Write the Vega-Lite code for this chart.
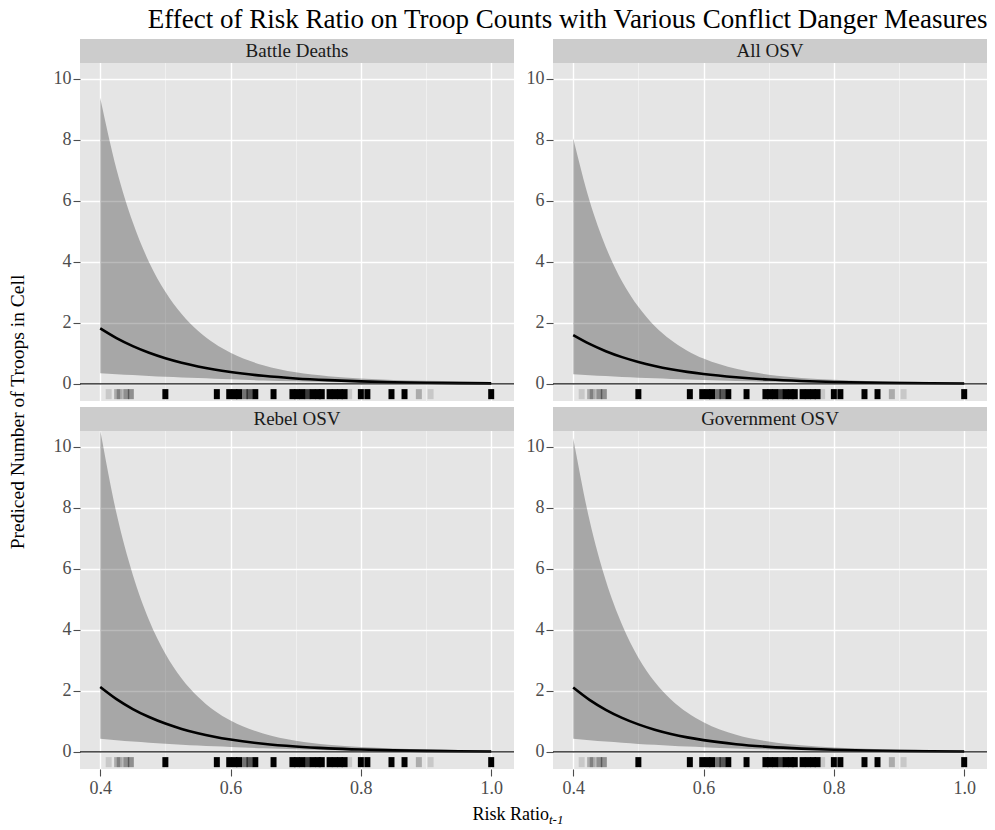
{
"$schema": "https://vega.github.io/schema/vega-lite/v6.json",
"padding": {"top": 6, "left": 0, "right": 0, "bottom": 0},
"background": "white",
"config": {"view": {"stroke": null}, "font": "Liberation Serif", "text": {"font": "Liberation Serif"}},
"title": {"text": "Effect of Risk Ratio on Troop Counts with Various Conflict Danger Measures", "anchor": "end", "font": "Liberation Serif", "fontSize": 27, "fontWeight": "normal", "color": "#000000", "offset": 5},
"datasets": {
"fit": [
{"panel":"Battle Deaths","x":0.4,"fit":1.82,"lo":0.353,"hi":9.38},
{"panel":"Battle Deaths","x":0.425,"fit":1.501,"lo":0.32,"hi":7.04},
{"panel":"Battle Deaths","x":0.45,"fit":1.239,"lo":0.289,"hi":5.3},
{"panel":"Battle Deaths","x":0.475,"fit":1.022,"lo":0.262,"hi":3.99},
{"panel":"Battle Deaths","x":0.5,"fit":0.843,"lo":0.236,"hi":3.02},
{"panel":"Battle Deaths","x":0.525,"fit":0.696,"lo":0.212,"hi":2.29},
{"panel":"Battle Deaths","x":0.55,"fit":0.574,"lo":0.19,"hi":1.74},
{"panel":"Battle Deaths","x":0.575,"fit":0.473,"lo":0.169,"hi":1.33},
{"panel":"Battle Deaths","x":0.6,"fit":0.39,"lo":0.15,"hi":1.02},
{"panel":"Battle Deaths","x":0.65,"fit":0.266,"lo":0.115,"hi":0.613},
{"panel":"Battle Deaths","x":0.7,"fit":0.18,"lo":0.085,"hi":0.381},
{"panel":"Battle Deaths","x":0.75,"fit":0.123,"lo":0.06,"hi":0.253},
{"panel":"Battle Deaths","x":0.8,"fit":0.0837,"lo":0.04,"hi":0.177},
{"panel":"Battle Deaths","x":0.85,"fit":0.057,"lo":0.025,"hi":0.131},
{"panel":"Battle Deaths","x":0.9,"fit":0.0388,"lo":0.015,"hi":0.101},
{"panel":"Battle Deaths","x":0.95,"fit":0.0264,"lo":0.0087,"hi":0.08},
{"panel":"Battle Deaths","x":1.0,"fit":0.018,"lo":0.005,"hi":0.064},
{"panel":"All OSV","x":0.4,"fit":1.6,"lo":0.318,"hi":8.05},
{"panel":"All OSV","x":0.425,"fit":1.31,"lo":0.286,"hi":6.01},
{"panel":"All OSV","x":0.45,"fit":1.073,"lo":0.256,"hi":4.49},
{"panel":"All OSV","x":0.475,"fit":0.878,"lo":0.229,"hi":3.36},
{"panel":"All OSV","x":0.5,"fit":0.719,"lo":0.205,"hi":2.53},
{"panel":"All OSV","x":0.525,"fit":0.589,"lo":0.182,"hi":1.9},
{"panel":"All OSV","x":0.55,"fit":0.482,"lo":0.162,"hi":1.44},
{"panel":"All OSV","x":0.575,"fit":0.395,"lo":0.143,"hi":1.09},
{"panel":"All OSV","x":0.6,"fit":0.323,"lo":0.126,"hi":0.83},
{"panel":"All OSV","x":0.65,"fit":0.217,"lo":0.095,"hi":0.494},
{"panel":"All OSV","x":0.7,"fit":0.145,"lo":0.069,"hi":0.304},
{"panel":"All OSV","x":0.75,"fit":0.0973,"lo":0.048,"hi":0.198},
{"panel":"All OSV","x":0.8,"fit":0.0652,"lo":0.031,"hi":0.137},
{"panel":"All OSV","x":0.85,"fit":0.0437,"lo":0.019,"hi":0.0995},
{"panel":"All OSV","x":0.9,"fit":0.0293,"lo":0.0114,"hi":0.0753},
{"panel":"All OSV","x":0.95,"fit":0.0196,"lo":0.0066,"hi":0.0584},
{"panel":"All OSV","x":1.0,"fit":0.0132,"lo":0.0038,"hi":0.0464},
{"panel":"Rebel OSV","x":0.4,"fit":2.13,"lo":0.43,"hi":10.55},
{"panel":"Rebel OSV","x":0.425,"fit":1.731,"lo":0.383,"hi":7.82},
{"panel":"Rebel OSV","x":0.45,"fit":1.406,"lo":0.341,"hi":5.81},
{"panel":"Rebel OSV","x":0.475,"fit":1.143,"lo":0.302,"hi":4.32},
{"panel":"Rebel OSV","x":0.5,"fit":0.929,"lo":0.268,"hi":3.22},
{"panel":"Rebel OSV","x":0.525,"fit":0.755,"lo":0.236,"hi":2.41},
{"panel":"Rebel OSV","x":0.55,"fit":0.613,"lo":0.208,"hi":1.81},
{"panel":"Rebel OSV","x":0.575,"fit":0.498,"lo":0.182,"hi":1.36},
{"panel":"Rebel OSV","x":0.6,"fit":0.405,"lo":0.159,"hi":1.03},
{"panel":"Rebel OSV","x":0.65,"fit":0.267,"lo":0.118,"hi":0.603},
{"panel":"Rebel OSV","x":0.7,"fit":0.176,"lo":0.085,"hi":0.366},
{"panel":"Rebel OSV","x":0.75,"fit":0.116,"lo":0.057,"hi":0.235},
{"panel":"Rebel OSV","x":0.8,"fit":0.0768,"lo":0.037,"hi":0.16},
{"panel":"Rebel OSV","x":0.85,"fit":0.0507,"lo":0.022,"hi":0.115},
{"panel":"Rebel OSV","x":0.9,"fit":0.0335,"lo":0.013,"hi":0.085},
{"panel":"Rebel OSV","x":0.95,"fit":0.0221,"lo":0.0075,"hi":0.065},
{"panel":"Rebel OSV","x":1.0,"fit":0.0146,"lo":0.0042,"hi":0.051},
{"panel":"Government OSV","x":0.4,"fit":2.11,"lo":0.432,"hi":10.29},
{"panel":"Government OSV","x":0.425,"fit":1.706,"lo":0.383,"hi":7.6},
{"panel":"Government OSV","x":0.45,"fit":1.38,"lo":0.339,"hi":5.62},
{"panel":"Government OSV","x":0.475,"fit":1.116,"lo":0.299,"hi":4.17},
{"panel":"Government OSV","x":0.5,"fit":0.902,"lo":0.263,"hi":3.09},
{"panel":"Government OSV","x":0.525,"fit":0.729,"lo":0.231,"hi":2.3},
{"panel":"Government OSV","x":0.55,"fit":0.59,"lo":0.202,"hi":1.72},
{"panel":"Government OSV","x":0.575,"fit":0.477,"lo":0.176,"hi":1.29},
{"panel":"Government OSV","x":0.6,"fit":0.386,"lo":0.153,"hi":0.974},
{"panel":"Government OSV","x":0.65,"fit":0.252,"lo":0.112,"hi":0.565},
{"panel":"Government OSV","x":0.7,"fit":0.165,"lo":0.08,"hi":0.341},
{"panel":"Government OSV","x":0.75,"fit":0.108,"lo":0.054,"hi":0.217},
{"panel":"Government OSV","x":0.8,"fit":0.0704,"lo":0.034,"hi":0.146},
{"panel":"Government OSV","x":0.85,"fit":0.046,"lo":0.021,"hi":0.103},
{"panel":"Government OSV","x":0.9,"fit":0.0301,"lo":0.012,"hi":0.076},
{"panel":"Government OSV","x":0.95,"fit":0.0197,"lo":0.0068,"hi":0.057},
{"panel":"Government OSV","x":1.0,"fit":0.0129,"lo":0.0038,"hi":0.044}
],
"rug": [
{"x":0.413,"n":1},{"x":0.426,"n":2},{"x":0.43,"n":2},{"x":0.44,"n":3},{"x":0.447,"n":3},
{"x":0.5,"n":9},{"x":0.579,"n":9},{"x":0.598,"n":9},{"x":0.606,"n":9},{"x":0.613,"n":9},
{"x":0.622,"n":4},{"x":0.629,"n":5},{"x":0.638,"n":9},{"x":0.666,"n":9},{"x":0.695,"n":9},
{"x":0.702,"n":9},{"x":0.71,"n":9},{"x":0.718,"n":6},{"x":0.726,"n":9},{"x":0.734,"n":9},
{"x":0.74,"n":9},{"x":0.752,"n":9},{"x":0.76,"n":9},{"x":0.768,"n":9},{"x":0.775,"n":9},
{"x":0.782,"n":1},{"x":0.8,"n":9},{"x":0.81,"n":9},{"x":0.847,"n":9},{"x":0.867,"n":9},
{"x":0.889,"n":2},{"x":0.907,"n":1},{"x":1.0,"n":9}
]
},
"spacing": 16,
"hconcat": [
{"width": 36, "height": 746, "data": {"values": [{}]},
 "mark": {"type": "text", "angle": 270, "font": "Liberation Serif", "fontSize": 19.5, "color": "#000000"},
 "encoding": {"text": {"value": "Prediced Number of Troops in Cell"}}},
{"spacing": 4, "vconcat": [
 {"spacing": 10, "hconcat": [
  {"width": 434, "height": 362, "view": {"fill": "#E5E5E5", "stroke": null}, "layer": [
   {"data": {"name": "fit"}, "transform": [{"filter": "datum.panel === 'Battle Deaths'"}],
    "mark": {"type": "area", "color": "#000000", "opacity": 0.27, "interpolate": "monotone", "clip": true},
    "encoding": {
     "x": {"field": "x", "type": "quantitative", "scale": {"domain": [0.369, 1.035], "nice": false, "zero": false},
       "axis": {"values": [0.4,0.5,0.6,0.7,0.8,0.9,1.0], "labels": false, "ticks": false, "domain": false, "title": null,
         "gridColor": {"condition": {"test": "abs((datum.value*10) % 2 - 1) < 0.1", "value": "#F2F2F2"}, "value": "#FFFFFF"},
         "gridWidth": {"condition": {"test": "abs((datum.value*10) % 2 - 1) < 0.1", "value": 0.8}, "value": 1.4},
         "minExtent": 0, "maxExtent": 0}},
     "y": {"field": "hi", "type": "quantitative", "scale": {"domain": [-0.56, 11.307], "nice": false, "zero": false},
       "axis": {"values": [0,1,2,3,4,5,6,7,8,9,10], "labelExpr": "datum.value % 2 === 0 ? datum.label : ''",
         "tickSize": 7, "tickWidth": 1.1, "tickColor": "#4d4d4d",
         "tickOpacity": {"condition": {"test": "datum.value % 2 === 1", "value": 0}, "value": 1},
         "gridColor": {"condition": {"test": "datum.value % 2 === 1", "value": "#F2F2F2"}, "value": "#FFFFFF"},
         "gridWidth": {"condition": {"test": "datum.value % 2 === 1", "value": 0.8}, "value": 1.4},
         "domain": false, "title": null, "labelFont": "Liberation Serif", "labelFontSize": 18, "labelColor": "#4d4d4d",
         "labelPadding": 2, "minExtent": 28, "maxExtent": 28}},
     "y2": {"field": "lo"}}},
   {"data": {"name": "fit"}, "transform": [{"filter": "datum.panel === 'Battle Deaths'"}],
    "mark": {"type": "line", "color": "#000000", "strokeWidth": 2.6, "interpolate": "monotone", "clip": true},
    "encoding": {"x": {"field": "x", "type": "quantitative"}, "y": {"field": "fit", "type": "quantitative"}}},
   {"data": {"values": [{}]}, "mark": {"type": "rule", "color": "#1a1a1a", "strokeWidth": 1.1}, "encoding": {"y": {"datum": 0}}},
   {"data": {"name": "rug"}, "mark": {"type": "rule", "color": "#000000", "strokeWidth": 6, "strokeCap": "butt"},
    "encoding": {"x": {"field": "x", "type": "quantitative"}, "y": {"datum": -0.5}, "y2": {"datum": -0.17},
     "opacity": {"field": "n", "type": "quantitative", "scale": {"domain": [0, 8], "range": [0, 1], "clamp": true}, "legend": null}}},
   {"data": {"values": [{}]}, "mark": {"type": "rect", "color": "#CCCCCC"},
    "encoding": {"x": {"datum": 0.369}, "x2": {"datum": 1.035}, "y": {"datum": 10.52}, "y2": {"datum": 11.307}}},
   {"data": {"values": [{}]}, "mark": {"type": "text", "font": "Liberation Serif", "fontSize": 19, "color": "#1a1a1a"},
    "encoding": {"x": {"datum": 0.702}, "y": {"datum": 10.914}, "text": {"value": "Battle Deaths"}}}
  ]},
  {"width": 434, "height": 362, "view": {"fill": "#E5E5E5", "stroke": null}, "layer": [
   {"data": {"name": "fit"}, "transform": [{"filter": "datum.panel === 'All OSV'"}],
    "mark": {"type": "area", "color": "#000000", "opacity": 0.27, "interpolate": "monotone", "clip": true},
    "encoding": {
     "x": {"field": "x", "type": "quantitative", "scale": {"domain": [0.369, 1.035], "nice": false, "zero": false},
       "axis": {"values": [0.4,0.5,0.6,0.7,0.8,0.9,1.0], "labels": false, "ticks": false, "domain": false, "title": null,
         "gridColor": {"condition": {"test": "abs((datum.value*10) % 2 - 1) < 0.1", "value": "#F2F2F2"}, "value": "#FFFFFF"},
         "gridWidth": {"condition": {"test": "abs((datum.value*10) % 2 - 1) < 0.1", "value": 0.8}, "value": 1.4},
         "minExtent": 0, "maxExtent": 0}},
     "y": {"field": "hi", "type": "quantitative", "scale": {"domain": [-0.56, 11.307], "nice": false, "zero": false},
       "axis": {"values": [0,1,2,3,4,5,6,7,8,9,10], "labelExpr": "datum.value % 2 === 0 ? datum.label : ''",
         "tickSize": 7, "tickWidth": 1.1, "tickColor": "#4d4d4d",
         "tickOpacity": {"condition": {"test": "datum.value % 2 === 1", "value": 0}, "value": 1},
         "gridColor": {"condition": {"test": "datum.value % 2 === 1", "value": "#F2F2F2"}, "value": "#FFFFFF"},
         "gridWidth": {"condition": {"test": "datum.value % 2 === 1", "value": 0.8}, "value": 1.4},
         "domain": false, "title": null, "labelFont": "Liberation Serif", "labelFontSize": 18, "labelColor": "#4d4d4d",
         "labelPadding": 2, "minExtent": 28, "maxExtent": 28}},
     "y2": {"field": "lo"}}},
   {"data": {"name": "fit"}, "transform": [{"filter": "datum.panel === 'All OSV'"}],
    "mark": {"type": "line", "color": "#000000", "strokeWidth": 2.6, "interpolate": "monotone", "clip": true},
    "encoding": {"x": {"field": "x", "type": "quantitative"}, "y": {"field": "fit", "type": "quantitative"}}},
   {"data": {"values": [{}]}, "mark": {"type": "rule", "color": "#1a1a1a", "strokeWidth": 1.1}, "encoding": {"y": {"datum": 0}}},
   {"data": {"name": "rug"}, "mark": {"type": "rule", "color": "#000000", "strokeWidth": 6, "strokeCap": "butt"},
    "encoding": {"x": {"field": "x", "type": "quantitative"}, "y": {"datum": -0.5}, "y2": {"datum": -0.17},
     "opacity": {"field": "n", "type": "quantitative", "scale": {"domain": [0, 8], "range": [0, 1], "clamp": true}, "legend": null}}},
   {"data": {"values": [{}]}, "mark": {"type": "rect", "color": "#CCCCCC"},
    "encoding": {"x": {"datum": 0.369}, "x2": {"datum": 1.035}, "y": {"datum": 10.52}, "y2": {"datum": 11.307}}},
   {"data": {"values": [{}]}, "mark": {"type": "text", "font": "Liberation Serif", "fontSize": 19, "color": "#1a1a1a"},
    "encoding": {"x": {"datum": 0.702}, "y": {"datum": 10.914}, "text": {"value": "All OSV"}}}
  ]}
 ]},
 {"spacing": 10, "hconcat": [
  {"width": 434, "height": 362, "view": {"fill": "#E5E5E5", "stroke": null}, "layer": [
   {"data": {"name": "fit"}, "transform": [{"filter": "datum.panel === 'Rebel OSV'"}],
    "mark": {"type": "area", "color": "#000000", "opacity": 0.27, "interpolate": "monotone", "clip": true},
    "encoding": {
     "x": {"field": "x", "type": "quantitative", "scale": {"domain": [0.369, 1.035], "nice": false, "zero": false},
       "axis": {"values": [0.4,0.5,0.6,0.7,0.8,0.9,1.0], "labelExpr": "abs((datum.value*10) % 2 - 1) < 0.1 ? '' : format(datum.value, '.1f')",
         "tickSize": 7, "tickWidth": 1.1, "tickColor": "#4d4d4d",
         "tickOpacity": {"condition": {"test": "abs((datum.value*10) % 2 - 1) < 0.1", "value": 0}, "value": 1},
         "gridColor": {"condition": {"test": "abs((datum.value*10) % 2 - 1) < 0.1", "value": "#F2F2F2"}, "value": "#FFFFFF"},
         "gridWidth": {"condition": {"test": "abs((datum.value*10) % 2 - 1) < 0.1", "value": 0.8}, "value": 1.4},
         "domain": false, "title": null, "labelFont": "Liberation Serif", "labelFontSize": 18, "labelColor": "#4d4d4d",
         "labelPadding": 3, "minExtent": 28, "maxExtent": 28}},
     "y": {"field": "hi", "type": "quantitative", "scale": {"domain": [-0.56, 11.307], "nice": false, "zero": false},
       "axis": {"values": [0,1,2,3,4,5,6,7,8,9,10], "labelExpr": "datum.value % 2 === 0 ? datum.label : ''",
         "tickSize": 7, "tickWidth": 1.1, "tickColor": "#4d4d4d",
         "tickOpacity": {"condition": {"test": "datum.value % 2 === 1", "value": 0}, "value": 1},
         "gridColor": {"condition": {"test": "datum.value % 2 === 1", "value": "#F2F2F2"}, "value": "#FFFFFF"},
         "gridWidth": {"condition": {"test": "datum.value % 2 === 1", "value": 0.8}, "value": 1.4},
         "domain": false, "title": null, "labelFont": "Liberation Serif", "labelFontSize": 18, "labelColor": "#4d4d4d",
         "labelPadding": 2, "minExtent": 28, "maxExtent": 28}},
     "y2": {"field": "lo"}}},
   {"data": {"name": "fit"}, "transform": [{"filter": "datum.panel === 'Rebel OSV'"}],
    "mark": {"type": "line", "color": "#000000", "strokeWidth": 2.6, "interpolate": "monotone", "clip": true},
    "encoding": {"x": {"field": "x", "type": "quantitative"}, "y": {"field": "fit", "type": "quantitative"}}},
   {"data": {"values": [{}]}, "mark": {"type": "rule", "color": "#1a1a1a", "strokeWidth": 1.1}, "encoding": {"y": {"datum": 0}}},
   {"data": {"name": "rug"}, "mark": {"type": "rule", "color": "#000000", "strokeWidth": 6, "strokeCap": "butt"},
    "encoding": {"x": {"field": "x", "type": "quantitative"}, "y": {"datum": -0.5}, "y2": {"datum": -0.17},
     "opacity": {"field": "n", "type": "quantitative", "scale": {"domain": [0, 8], "range": [0, 1], "clamp": true}, "legend": null}}},
   {"data": {"values": [{}]}, "mark": {"type": "rect", "color": "#CCCCCC"},
    "encoding": {"x": {"datum": 0.369}, "x2": {"datum": 1.035}, "y": {"datum": 10.52}, "y2": {"datum": 11.307}}},
   {"data": {"values": [{}]}, "mark": {"type": "text", "font": "Liberation Serif", "fontSize": 19, "color": "#1a1a1a"},
    "encoding": {"x": {"datum": 0.702}, "y": {"datum": 10.914}, "text": {"value": "Rebel OSV"}}}
  ]},
  {"width": 434, "height": 362, "view": {"fill": "#E5E5E5", "stroke": null}, "layer": [
   {"data": {"name": "fit"}, "transform": [{"filter": "datum.panel === 'Government OSV'"}],
    "mark": {"type": "area", "color": "#000000", "opacity": 0.27, "interpolate": "monotone", "clip": true},
    "encoding": {
     "x": {"field": "x", "type": "quantitative", "scale": {"domain": [0.369, 1.035], "nice": false, "zero": false},
       "axis": {"values": [0.4,0.5,0.6,0.7,0.8,0.9,1.0], "labelExpr": "abs((datum.value*10) % 2 - 1) < 0.1 ? '' : format(datum.value, '.1f')",
         "tickSize": 7, "tickWidth": 1.1, "tickColor": "#4d4d4d",
         "tickOpacity": {"condition": {"test": "abs((datum.value*10) % 2 - 1) < 0.1", "value": 0}, "value": 1},
         "gridColor": {"condition": {"test": "abs((datum.value*10) % 2 - 1) < 0.1", "value": "#F2F2F2"}, "value": "#FFFFFF"},
         "gridWidth": {"condition": {"test": "abs((datum.value*10) % 2 - 1) < 0.1", "value": 0.8}, "value": 1.4},
         "domain": false, "title": null, "labelFont": "Liberation Serif", "labelFontSize": 18, "labelColor": "#4d4d4d",
         "labelPadding": 3, "minExtent": 28, "maxExtent": 28}},
     "y": {"field": "hi", "type": "quantitative", "scale": {"domain": [-0.56, 11.307], "nice": false, "zero": false},
       "axis": {"values": [0,1,2,3,4,5,6,7,8,9,10], "labelExpr": "datum.value % 2 === 0 ? datum.label : ''",
         "tickSize": 7, "tickWidth": 1.1, "tickColor": "#4d4d4d",
         "tickOpacity": {"condition": {"test": "datum.value % 2 === 1", "value": 0}, "value": 1},
         "gridColor": {"condition": {"test": "datum.value % 2 === 1", "value": "#F2F2F2"}, "value": "#FFFFFF"},
         "gridWidth": {"condition": {"test": "datum.value % 2 === 1", "value": 0.8}, "value": 1.4},
         "domain": false, "title": null, "labelFont": "Liberation Serif", "labelFontSize": 18, "labelColor": "#4d4d4d",
         "labelPadding": 2, "minExtent": 28, "maxExtent": 28}},
     "y2": {"field": "lo"}}},
   {"data": {"name": "fit"}, "transform": [{"filter": "datum.panel === 'Government OSV'"}],
    "mark": {"type": "line", "color": "#000000", "strokeWidth": 2.6, "interpolate": "monotone", "clip": true},
    "encoding": {"x": {"field": "x", "type": "quantitative"}, "y": {"field": "fit", "type": "quantitative"}}},
   {"data": {"values": [{}]}, "mark": {"type": "rule", "color": "#1a1a1a", "strokeWidth": 1.1}, "encoding": {"y": {"datum": 0}}},
   {"data": {"name": "rug"}, "mark": {"type": "rule", "color": "#000000", "strokeWidth": 6, "strokeCap": "butt"},
    "encoding": {"x": {"field": "x", "type": "quantitative"}, "y": {"datum": -0.5}, "y2": {"datum": -0.17},
     "opacity": {"field": "n", "type": "quantitative", "scale": {"domain": [0, 8], "range": [0, 1], "clamp": true}, "legend": null}}},
   {"data": {"values": [{}]}, "mark": {"type": "rect", "color": "#CCCCCC"},
    "encoding": {"x": {"datum": 0.369}, "x2": {"datum": 1.035}, "y": {"datum": 10.52}, "y2": {"datum": 11.307}}},
   {"data": {"values": [{}]}, "mark": {"type": "text", "font": "Liberation Serif", "fontSize": 19, "color": "#1a1a1a"},
    "encoding": {"x": {"datum": 0.702}, "y": {"datum": 10.914}, "text": {"value": "Government OSV"}}}
  ]}
 ]},
 {"width": 906, "height": 28, "data": {"values": [{}]}, "layer": [
  {"mark": {"type": "text", "align": "right", "dx": 16, "font": "Liberation Serif", "fontSize": 18, "color": "#000000"},
   "encoding": {"text": {"value": "Risk Ratio"},
    "y": {"datum": 0, "type": "quantitative", "scale": {"domain": [-1, 1]},
      "axis": {"labels": false, "ticks": false, "domain": false, "grid": false, "title": null, "minExtent": 28, "maxExtent": 28}}}},
  {"mark": {"type": "text", "align": "left", "dx": 16, "dy": 5, "font": "Liberation Serif", "fontSize": 13, "fontStyle": "italic", "color": "#000000"},
   "encoding": {"text": {"value": "t-1"}, "y": {"datum": 0}}}
 ]}
]}
]
}
